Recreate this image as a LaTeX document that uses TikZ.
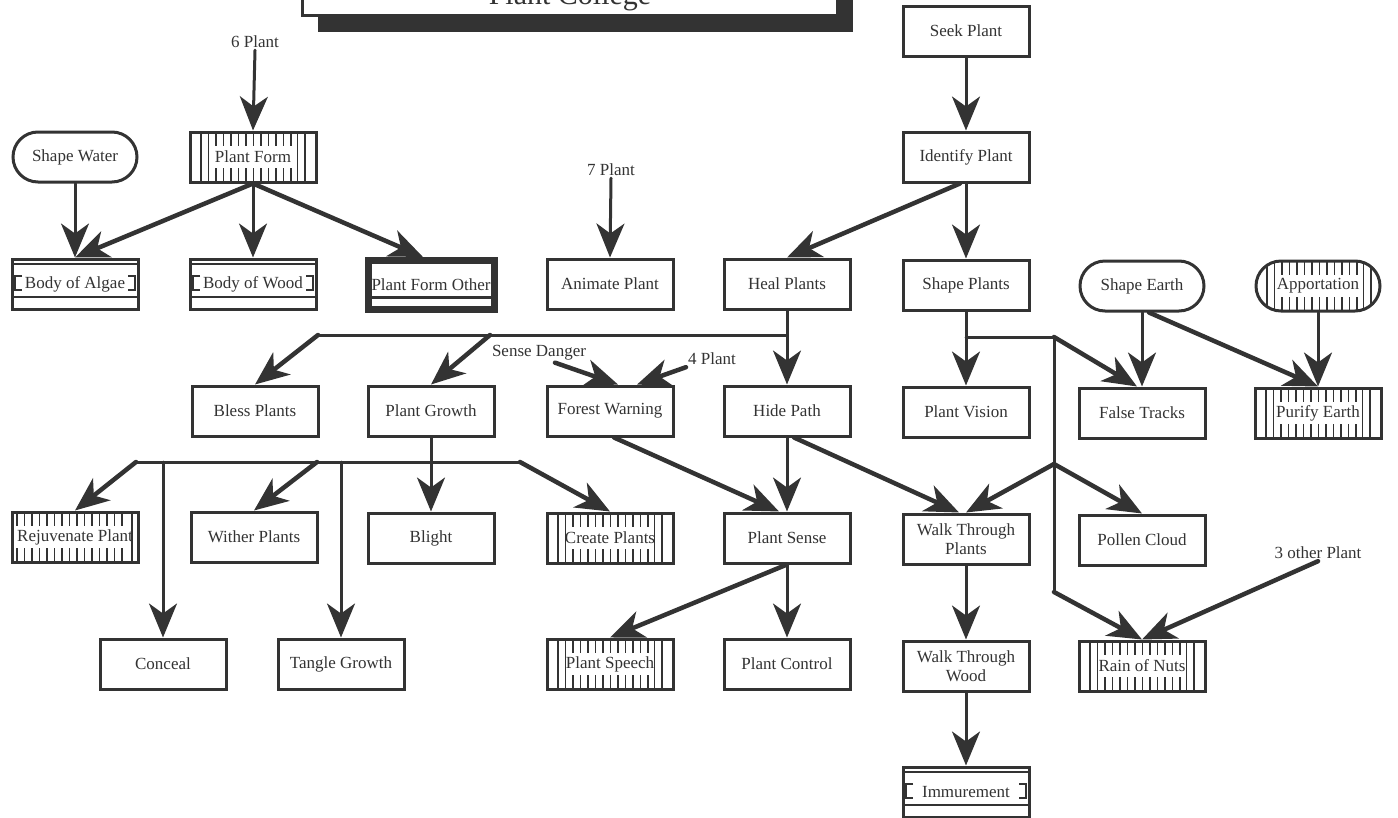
\documentclass[tikz,border=0pt]{standalone}
\usepackage{fontspec}
\setmainfont{Liberation Serif}
\usetikzlibrary{arrows.meta, shapes.misc, shadows}
\definecolor{ink}{HTML}{333333}
\newcommand{\stripes}[2]{%
    \foreach \k in {#1}
        \draw[stripe] ([xshift=\k*1pt]path picture bounding box.north west) -- ++(0pt,-60pt);
    \foreach \k in {#2}{
        \draw[stripe] ([xshift=\k*1pt]path picture bounding box.north west) -- ++(0pt,-14pt);
        \draw[stripe] ([xshift=\k*1pt]path picture bounding box.south west) -- ++(0pt,14pt);
    }}

\begin{document}
\begin{tikzpicture}[
        x=1pt, y=-1pt,
        >=Stealth,
        font=\fontsize{17}{19.5}\selectfont,
        text=ink,
        box/.style={draw=ink, line width=3pt, fill=white, minimum width=126pt, minimum height=50pt, align=center, inner sep=1pt},
        pill/.style={box, rounded rectangle},
        stripe/.style={draw=ink, line width=1.7pt},
        vbox/.style={box, path picture={\stripes{11,18.5,107.5,115}{26,33.5,...,101.5}}},
        vtick/.style={box, path picture={\stripes{120}{5,12.5,...,114}}},
        vpill/.style={vbox, rounded rectangle},
        hbox/.style={box, path picture={
            \draw[stripe] ([yshift=-5pt]path picture bounding box.north west) -- ([yshift=-5pt]path picture bounding box.north east);
            \draw[draw=ink, line width=2.8pt] ([yshift=12pt]path picture bounding box.south west) -- ([yshift=12pt]path picture bounding box.south east);
            \draw[stripe] ([xshift=10pt,yshift=8pt]path picture bounding box.west) -| ([xshift=3pt,yshift=-6pt]path picture bounding box.west) -- ++(7pt,0pt);
            \draw[stripe] ([xshift=-10pt,yshift=8pt]path picture bounding box.east) -| ([xshift=-3pt,yshift=-6pt]path picture bounding box.east) -- ++(-7pt,0pt);
        }},
        heavy/.style={box, line width=7pt, minimum width=126pt, minimum height=49pt, path picture={
            \draw[draw=ink, line width=2.8pt] ([yshift=12pt]path picture bounding box.south west) -- ([yshift=12pt]path picture bounding box.south east);
        }},
        line/.style={draw=ink, line width=3pt, line cap=round},
        arrow/.style={line, -{Stealth[length=34pt, width=28pt, inset=10pt]}},
        fat/.style={arrow, line width=4.5pt},
        lab/.style={inner sep=2pt}
    ]
        \useasboundingbox (0,0) rectangle (1398,817);

        \node[draw=ink, line width=3pt, fill=white, minimum width=535pt, minimum height=80pt, anchor=south,
              drop shadow={shadow xshift=15pt, shadow yshift=-16pt, fill=ink, opacity=1}] (title) at (570,17) {};
        \node[font=\fontsize{30}{34}\selectfont, anchor=base] (titletext) at ([yshift=13pt]title.south) {Plant College};

        \node[box] (seek) at (966,31) {Seek Plant};
        \node[pill] (shapewater) at (75,157) {Shape Water};
        \node[vbox] (plantform) at (253,157) {Plant Form};
        \node[box] (identify) at (966,157) {Identify Plant};
        \node[hbox] (algae) at (75,284) {Body of Algae};
        \node[hbox] (wood) at (253,284) {Body of Wood};
        \node[heavy] (other) at (431,285) {Plant Form Other};
        \node[box] (animate) at (610,284) {Animate Plant};
        \node[box] (heal) at (787,284) {Heal Plants};
        \node[box] (shapeplants) at (966,285) {Shape Plants};
        \node[pill] (shapeearth) at (1142,286) {Shape Earth};
        \node[vpill] (apport) at (1318,286) {Apportation};
        \node[box] (bless) at (255,411) {Bless Plants};
        \node[box] (growth) at (431,411) {Plant Growth};
        \node[box] (forest) at (610,411) {Forest Warning};
        \node[box] (hide) at (787,411) {Hide Path};
        \node[box] (vision) at (966,412) {Plant Vision};
        \node[box] (falsetr) at (1142,413) {False Tracks};
        \node[vbox] (purify) at (1318,413) {Purify Earth};
        \node[vtick] (rejuv) at (75,537) {Rejuvenate Plant};
        \node[box] (wither) at (254,537) {Wither Plants};
        \node[box] (blight) at (431,538) {Blight};
        \node[vbox] (create) at (610,538) {Create Plants};
        \node[box] (sense) at (787,538) {Plant Sense};
        \node[box] (walkp) at (966,539) {Walk Through\\Plants};
        \node[box] (pollen) at (1142,540) {Pollen Cloud};
        \node[box] (conceal) at (163,664) {Conceal};
        \node[box] (tangle) at (341,664) {Tangle Growth};
        \node[vbox] (speech) at (610,664) {Plant Speech};
        \node[box] (control) at (787,664) {Plant Control};
        \node[box] (walkw) at (966,666) {Walk Through\\Wood};
        \node[vbox] (rain) at (1142,666) {Rain of Nuts};
        \node[hbox] (immure) at (966,792) {Immurement};

        \node[lab] (six) at (255,42) {6 Plant};
        \node[lab] (seven) at (611,170) {7 Plant};
        \node[lab] (danger) at (539,353) {Sense Danger};
        \node[lab] (four) at (712,359) {4 Plant};
        \node[lab] (three) at (1318,553) {3 other Plant};

        \coordinate (hb) at (787,335);
        \coordinate (hbl) at (318,335);
        \coordinate (hbg) at (490,335);
        \coordinate (gl) at (136,462);
        \coordinate (gr) at (520,462);
        \coordinate (gc) at (163,462);
        \coordinate (gw) at (317,462);
        \coordinate (gt) at (341,462);
        \coordinate (sb) at (966,337);
        \coordinate (sr) at (1054,337);
        \coordinate (sj) at (1054,464);
        \coordinate (sd) at (1054,592);

        \draw[arrow] (six.south) -- (plantform.north);
        \draw[arrow] (shapewater.south) -- (algae.north);
        \draw[fat] (plantform.south) -- (algae.north);
        \draw[arrow] (plantform.south) -- (wood.north);
        \draw[fat] (plantform.south) -- ([xshift=-8pt]other.north);
        \draw[arrow] (seven.south) -- (animate.north);
        \draw[arrow] (seek.south) -- (identify.north);
        \draw[fat] ([xshift=-6pt]identify.south) -- (heal.north);
        \draw[arrow] (identify.south) -- (shapeplants.north);

        \draw[arrow] (heal.south) -- (hide.north);
        \draw[line] (hb) -- (hbl);
        \draw[fat] (hbl) -- (bless.north);
        \draw[fat] (hbg) -- (growth.north);
        \draw[fat] ([xshift=16pt]danger.south) -- ([xshift=8pt]forest.north);
        \draw[fat] (four.south west) -- ([xshift=27pt]forest.north);

        \draw[arrow] (growth.south) -- (blight.north);
        \draw[line] (gl) -- (gr);
        \draw[fat] (gl) -- (rejuv.north);
        \draw[fat] (gr) -- (create.north);
        \draw[fat] (gw) -- (wither.north);
        \draw[arrow] (gc) -- (conceal.north);
        \draw[arrow] (gt) -- (tangle.north);

        \draw[fat] ([xshift=4pt]forest.south) -- ([xshift=-8pt]sense.north);
        \draw[arrow] (hide.south) -- (sense.north);
        \draw[fat] ([xshift=7pt]hide.south) -- ([xshift=-7pt]walkp.north);
        \draw[fat] (sense.south) -- (speech.north);
        \draw[arrow] (sense.south) -- (control.north);
        \draw[arrow] (walkp.south) -- (walkw.north);
        \draw[arrow] (walkw.south) -- (immure.north);

        \draw[arrow] (shapeplants.south) -- (vision.north);
        \draw[line] (sb) -- (sr) -- (sd);
        \draw[fat] (sr) -- ([xshift=-5pt]falsetr.north);
        \draw[fat] (sj) -- (walkp.north);
        \draw[fat] (sj) -- (pollen.north);
        \draw[fat] (sd) -- (rain.north);
        \draw[arrow] (shapeearth.south) -- (falsetr.north);
        \draw[fat] ([xshift=7pt]shapeearth.south) -- (purify.north);
        \draw[arrow] (apport.south) -- (purify.north);
        \draw[fat] (three.south) -- (rain.north);
    \end{tikzpicture}
\end{document}
